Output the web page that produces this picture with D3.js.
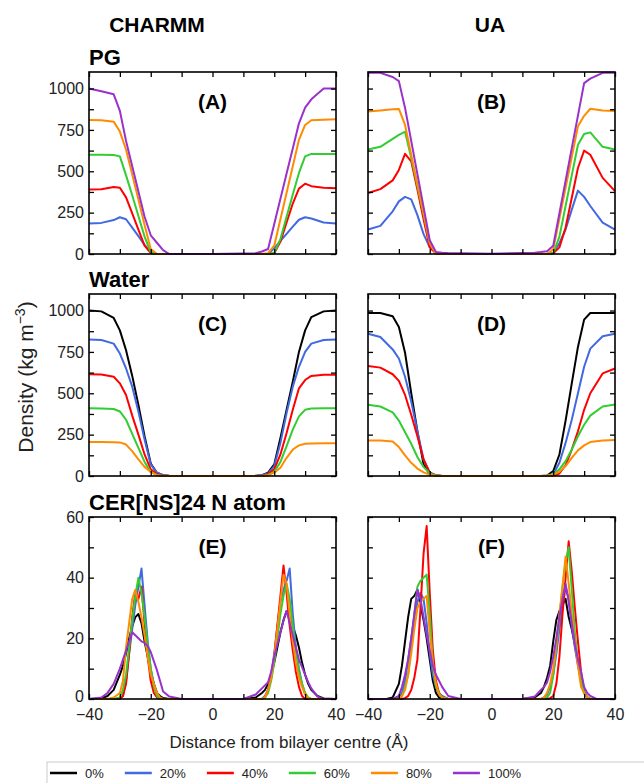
<!DOCTYPE html>
<html>
<head>
<meta charset="utf-8">
<script src="https://cdn.jsdelivr.net/npm/d3@7"></script>
<style>
  body { margin: 0; background: #fff; }
  svg { display: block; font-family: "Liberation Sans", Arial, sans-serif; }
</style>
</head>
<body>
<svg id="chart" width="644" height="783"></svg>
<script>
// distance grid (Å) for the PG / water profiles
var xProfile = [-40, -36, -32, -30, -28, -26, -24, -22, -20, -18, -16, -14, 0,
  14, 16, 18, 20, 22, 24, 26, 28, 30, 32, 36, 40]
// finer grid for the N atom distributions
var xAtom = [-40, -36, -34, -32, -30, -29, -28, -27, -26, -25, -24, -23, -22, -21, -20, -19, -18, -17, -16, -14, -10,
  10, 14, 16, 17, 18, 19, 20, 21, 22, 23, 24, 25, 26, 27, 28, 29, 30, 31, 32, 34, 36, 40]

var seriesNames = ['0%', '20%', '40%', '60%', '80%', '100%']
var seriesColors = ['#000000', '#4169e1', '#ff0000', '#32cd32', '#ff8c00', '#9932cc']

var profileTicks = [0, 125, 250, 375, 500, 625, 750, 875, 1000]
var atomTicks = [0, 10, 20, 30, 40, 50, 60]
var xTicks = [-40, -30, -20, -10, 0, 10, 20, 30, 40]

// (A) PG, CHARMM  (no 0% series)
var pgCharmm = [
  null,
  [185, 188, 205, 222, 210, 160, 108, 55, 12, 0, 0, 0, 0, 0, 0, 0, 35, 80, 122, 165, 207, 222, 215, 190, 185],
  [390, 392, 405, 400, 342, 245, 147, 50, 5, 0, 0, 0, 0, 0, 0, 0, 5, 75, 190, 305, 395, 425, 410, 400, 398],
  [600, 600, 598, 590, 475, 355, 230, 105, 10, 0, 0, 0, 0, 0, 0, 0, 5, 90, 225, 360, 490, 590, 605, 605, 605],
  [810, 808, 800, 740, 630, 480, 330, 175, 30, 0, 0, 0, 0, 0, 0, 5, 50, 210, 370, 530, 690, 780, 808, 812, 815],
  [1000, 984, 965, 865, 683, 530, 378, 225, 113, 68, 23, 0, 0, 5, 15, 30, 182, 334, 486, 638, 790, 885, 935, 1000, 1000]
]
// (B) PG, UA
var pgUa = [
  null,
  [148, 170, 258, 318, 345, 330, 235, 120, 40, 5, 0, 0, 0, 0, 0, 0, 5, 65, 148, 268, 383, 345, 290, 190, 148],
  [369, 392, 445, 508, 605, 560, 390, 210, 40, 5, 0, 0, 0, 0, 0, 0, 5, 40, 160, 340, 520, 625, 600, 460, 380],
  [632, 648, 696, 720, 739, 580, 410, 240, 70, 5, 0, 0, 0, 0, 0, 0, 3, 105, 290, 475, 660, 725, 735, 648, 632],
  [861, 868, 875, 877, 780, 600, 420, 245, 65, 0, 0, 0, 0, 0, 0, 0, 28, 214, 400, 586, 772, 835, 878, 867, 865],
  [1095, 1095, 1070, 1045, 883, 683, 483, 283, 83, 12, 8, 6, 2, 8, 12, 17, 50, 246, 443, 640, 836, 1033, 1060, 1095, 1095]
]
// (C) water, CHARMM  (no 100% series)
var waterCharmm = [
  [1000, 995, 955, 880, 760, 605, 430, 240, 75, 20, 5, 2, 0, 2, 5, 20, 70, 230, 400, 570, 750, 880, 960, 995, 1000],
  [825, 822, 800, 740, 650, 540, 390, 220, 70, 20, 5, 0, 0, 0, 5, 15, 60, 200, 380, 540, 660, 750, 800, 822, 825],
  [615, 614, 600, 560, 490, 365, 250, 130, 40, 10, 2, 0, 0, 0, 2, 10, 40, 130, 260, 400, 530, 580, 605, 612, 612],
  [410, 408, 405, 390, 340, 255, 170, 85, 25, 5, 0, 0, 0, 0, 0, 5, 25, 85, 180, 280, 360, 400, 408, 410, 410],
  [205, 205, 204, 203, 190, 150, 100, 55, 25, 5, 0, 0, 0, 0, 0, 5, 20, 50, 110, 160, 185, 195, 197, 198, 198],
  null
]
// (D) water, UA
var waterUa = [
  [985, 985, 965, 900, 745, 500, 270, 70, 10, 3, 0, 0, 0, 0, 0, 3, 30, 130, 335, 560, 780, 945, 985, 985, 985],
  [860, 840, 765, 710, 600, 450, 270, 100, 20, 5, 0, 0, 0, 0, 0, 2, 10, 80, 200, 340, 500, 660, 770, 845, 860],
  [665, 655, 615, 575, 490, 370, 240, 100, 20, 3, 0, 0, 0, 0, 0, 0, 2, 15, 65, 160, 270, 400, 500, 620, 650],
  [430, 420, 385, 335, 265, 195, 115, 55, 15, 3, 0, 0, 0, 0, 0, 2, 10, 40, 90, 160, 240, 310, 365, 420, 432],
  [215, 214, 208, 175, 125, 80, 45, 22, 8, 2, 0, 0, 0, 0, 0, 2, 8, 25, 60, 110, 155, 185, 205, 215, 217],
  null
]
// (E) CER[NS]24 N atom, CHARMM
var atomCharmm = [
  [0, 0.2, 1, 3, 8, 11, 15, 20, 24, 27, 28, 25, 19, 14, 9, 5, 2, 1, 0.3, 0, 0,
    0, 0.5, 2, 3, 5, 8, 12, 17, 22, 26, 29, 27, 24, 21, 17, 12, 8, 5, 3, 1, 0.2, 0],
  [0, 0, 0, 0, 0.2, 1, 6, 15, 23, 31, 37, 43, 31, 19, 10, 5, 2, 0.3, 0, 0, 0,
    0, 0, 0, 1, 3, 8, 15, 24, 32, 36, 39, 43, 28, 17, 10, 5, 1.5, 0.3, 0, 0, 0, 0],
  [0, 0, 0, 0, 0, 1, 5, 15, 27, 35, 33, 37, 25, 14, 6, 2, 0.5, 0, 0, 0, 0,
    0, 0, 0, 0.5, 3, 7, 14, 24, 34, 44, 35, 24, 16, 9, 4, 1, 0, 0, 0, 0, 0, 0],
  [0, 0, 0, 0, 0.5, 3, 8, 17, 26, 34, 40, 35, 27, 18, 10, 4, 1, 0, 0, 0, 0,
    0, 0, 0, 0.5, 2, 6, 12, 20, 28, 34, 38, 33, 24, 16, 9, 5, 2, 0.5, 0, 0, 0, 0],
  [0, 0, 0, 0.5, 2, 6, 17, 25, 33, 36, 32, 27, 21, 14, 8, 5, 2, 0.5, 0, 0, 0,
    0, 0, 0, 0.5, 3, 7, 14, 23, 32, 41, 38, 28, 19, 12, 7, 4, 1.5, 0.3, 0, 0, 0, 0],
  [0, 0.5, 2, 5, 10, 13, 16, 19, 22, 21, 20, 19, 18.5, 17.5, 15.5, 12.5, 9.5, 6, 2.5, 0.8, 0,
    0, 1.5, 3.5, 4.5, 5.5, 9, 14, 18, 22, 26, 29, 25, 21, 17, 13, 10.5, 8, 5.5, 3.5, 0.8, 0, 0]
]
// (F) CER[NS]24 N atom, UA
var atomUa = [
  [0, 0, 0, 0.5, 5, 11, 19, 27, 33, 34, 36, 31, 26, 20, 13, 6, 2, 0.5, 0, 0, 0,
    0, 0.5, 2, 4, 7, 11, 19, 26, 29, 31, 33, 27, 23, 18, 12, 6, 2, 0.5, 0, 0, 0, 0],
  [0, 0, 0, 0, 0.5, 2, 6, 13, 20, 27, 32, 35, 33, 25, 15, 8, 4, 2, 1, 0, 0,
    0, 0, 0, 0.5, 1.5, 4, 8, 15, 23, 30, 37, 33, 24, 17, 11, 6, 2.5, 0.5, 0, 0, 0, 0],
  [0, 0, 0, 0, 0, 0, 0.3, 1, 3, 7, 13, 30, 48, 57, 35, 16, 6, 2, 0.5, 0, 0,
    0, 0, 0, 0, 0, 0.3, 1, 5, 14, 28, 40, 52, 42, 30, 19, 9, 2, 0.5, 0, 0, 0, 0],
  [0, 0, 0, 0, 0, 1, 4, 8, 18, 28, 37, 39, 40, 41, 28, 12, 4, 2, 0.5, 0, 0,
    0, 0, 0, 0, 0.5, 2, 8, 17, 27, 37, 45, 50, 36, 22, 12, 6, 2, 0.5, 0, 0, 0, 0],
  [0, 0, 0, 0, 0, 1, 3, 8, 15, 23, 30, 32, 33, 34, 22, 12, 5, 1.5, 0.5, 0, 0,
    0, 0, 0, 0.5, 2, 5, 10, 18, 28, 37, 47, 38, 28, 19, 11, 4, 2, 0.5, 0, 0, 0, 0],
  [0, 0, 0, 0, 1, 4, 8, 13, 20, 28, 36, 33, 27, 21, 16, 11, 8, 6, 4, 1, 0,
    0, 0.8, 3, 4, 5.5, 9, 14, 20, 27, 33, 38, 32, 25, 18, 13, 9, 4, 2, 1, 0, 0, 0]
]

var svg = d3.select('#chart')
var colLeft = [89, 368]
var rowTop = [72, 294, 517]
var pw = 247
var ph = 182

var panels = [
  { col: 0, row: 0, tag: '(A)', xs: xProfile, data: pgCharmm, yMax: 1100, ticks: profileTicks, major: 250 },
  { col: 1, row: 0, tag: '(B)', xs: xProfile, data: pgUa, yMax: 1100, ticks: profileTicks, major: 250 },
  { col: 0, row: 1, tag: '(C)', xs: xProfile, data: waterCharmm, yMax: 1100, ticks: profileTicks, major: 250 },
  { col: 1, row: 1, tag: '(D)', xs: xProfile, data: waterUa, yMax: 1100, ticks: profileTicks, major: 250 },
  { col: 0, row: 2, tag: '(E)', xs: xAtom, data: atomCharmm, yMax: 60, ticks: atomTicks, major: 20 },
  { col: 1, row: 2, tag: '(F)', xs: xAtom, data: atomUa, yMax: 60, ticks: atomTicks, major: 20 }
]

panels.forEach(function (p) {
  var g = svg.append('g')
    .attr('transform', 'translate(' + colLeft[p.col] + ',' + rowTop[p.row] + ')')
  var x = d3.scaleLinear().domain([-40, 40]).range([0, pw])
  var y = d3.scaleLinear().domain([0, p.yMax]).range([ph, 0])

  var line = d3.line()
    .x(function (d, i) { return x(p.xs[i]) })
    .y(function (d) { return y(d) })

  p.data.forEach(function (vals, i) {
    if (!vals) return
    g.append('path')
      .attr('d', line(vals))
      .attr('fill', 'none')
      .attr('stroke', seriesColors[i])
      .attr('stroke-width', 2)
      .attr('stroke-linejoin', 'round')
  })

  var yFmt = function (d) { return p.col === 0 && d % p.major === 0 ? d : '' }
  var xFmt = function (d) { return p.row === 2 && d % 20 === 0 ? d3.format('')(d) : '' }

  var left = g.append('g')
    .call(d3.axisLeft(y).tickValues(p.ticks).tickSize(-5).tickPadding(5).tickFormat(yFmt))
  var axes = [
    left,
    g.append('g').attr('transform', 'translate(' + pw + ',0)')
      .call(d3.axisRight(y).tickValues(p.ticks).tickSize(-5).tickFormat('')),
    g.append('g').call(d3.axisTop(x).tickValues(xTicks).tickSize(-5).tickFormat('')),
    g.append('g').attr('transform', 'translate(0,' + ph + ')')
      .call(d3.axisBottom(x).tickValues(xTicks).tickSize(-5).tickPadding(10).tickFormat(xFmt))
  ]
  axes.forEach(function (a) {
    a.select('.domain').remove()
    a.selectAll('line').attr('stroke', '#000').attr('stroke-width', 1.3)
    a.selectAll('text')
      .attr('font-family', '"Liberation Sans", Arial, sans-serif')
      .attr('font-size', 16)
      .attr('fill', '#222')
  })
  // keep the bottom-left "0" clear of the "-40" below it
  if (p.row === 2) {
    left.selectAll('text').filter(function (d) { return d === 0 }).attr('y', -3)
  }

  g.append('rect')
    .attr('width', pw)
    .attr('height', ph)
    .attr('fill', 'none')
    .attr('stroke', '#000')
    .attr('stroke-width', 1.6)

  g.append('text')
    .attr('x', pw / 2)
    .attr('y', 37)
    .attr('text-anchor', 'middle')
    .attr('font-size', 21)
    .attr('font-weight', 'bold')
    .text(p.tag)
})

// row titles
var rowTitles = ['PG', 'Water', 'CER[NS]24 N atom']
svg.selectAll('.row-title')
  .data(rowTitles)
  .enter()
  .append('text')
  .attr('class', 'row-title')
  .attr('x', colLeft[0])
  .attr('y', function (d, i) { return rowTop[i] - 7 })
  .attr('font-size', 22)
  .attr('font-weight', 'bold')
  .text(function (d) { return d })

// column titles
svg.selectAll('.col-title')
  .data(['CHARMM', 'UA'])
  .enter()
  .append('text')
  .attr('class', 'col-title')
  .attr('x', function (d, i) { return i === 0 ? 157 : 490 })
  .attr('y', 32)
  .attr('text-anchor', 'middle')
  .attr('font-size', 21)
  .attr('font-weight', 'bold')
  .text(function (d) { return d })

// y label
var ylab = svg.append('text')
  .attr('transform', 'translate(33,377) rotate(-90)')
  .attr('text-anchor', 'middle')
  .attr('font-size', 21)
  .attr('fill', '#222')
ylab.append('tspan').text('Density (kg m')
ylab.append('tspan').attr('font-size', 14).attr('dy', -8).text('\u22123')
ylab.append('tspan').attr('dy', 8).text(')')

// x label
svg.append('text')
  .attr('x', 289)
  .attr('y', 748)
  .attr('text-anchor', 'middle')
  .attr('font-size', 17)
  .attr('fill', '#222')
  .text('Distance from bilayer centre (\u00c5)')

// legend
var legend = svg.append('g').attr('transform', 'translate(47,762)')
legend.append('rect')
  .attr('width', 640)
  .attr('height', 40)
  .attr('fill', '#fff')
  .attr('stroke', '#cccccc')
  .attr('stroke-width', 1)
var lx = 3
seriesNames.forEach(function (name, i) {
  var item = legend.append('g').attr('transform', 'translate(' + lx + ',11)')
  item.append('line')
    .attr('x1', 0).attr('x2', 27)
    .attr('stroke', seriesColors[i])
    .attr('stroke-width', 2.5)
  var t = item.append('text')
    .attr('x', 35)
    .attr('y', 5)
    .attr('font-size', 13)
    .attr('fill', '#222')
    .text(name)
  lx += 35 + t.node().getComputedTextLength() + 21
})
</script>
</body>
</html>
